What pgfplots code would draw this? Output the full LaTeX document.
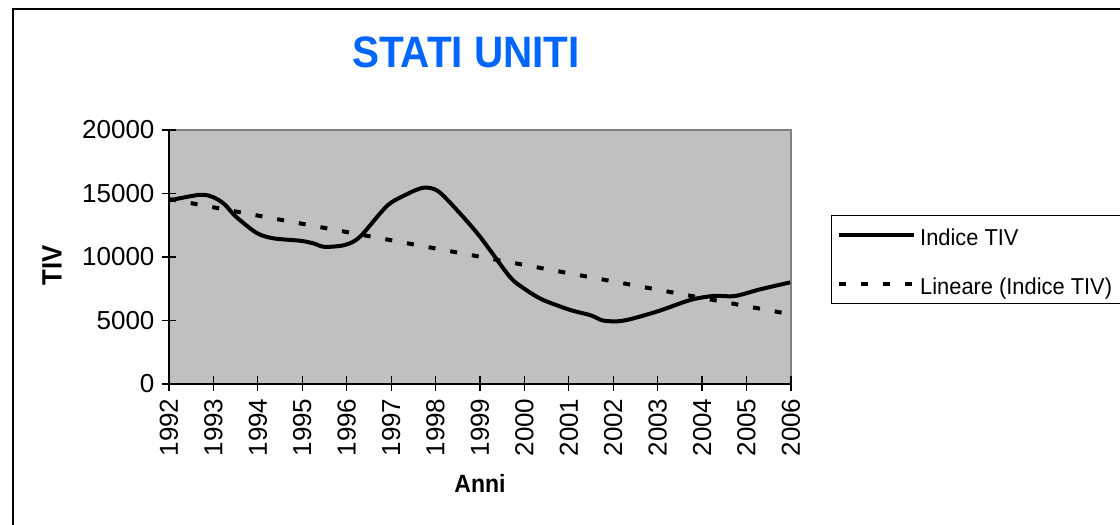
\documentclass[border=0pt]{standalone}
\usepackage{fontspec}
\setmainfont{Liberation Sans}
\newfontfamily\condsans{Liberation Sans}[FakeStretch=0.92]
\newfontfamily\legsans{Liberation Sans}[FakeStretch=0.95]
\usepackage{pgfplots}
\pgfplotsset{compat=1.18}
\definecolor{plotgray}{RGB}{192,192,192}
\definecolor{edgegray}{RGB}{128,128,128}
\definecolor{titleblue}{RGB}{0,102,255}

% Indice TIV
\pgfplotstableread{
anno   tiv
1992.00 14450
1992.70 14900
1993.00 14700
1993.25 14150
1993.50 13200
1993.97 11900
1994.35 11470
1994.95 11280
1995.25 11075
1995.50 10800
1995.96 10950
1996.30 11600
1996.90 14000
1997.30 14850
1997.72 15450
1998.05 15200
1998.48 13700
1999.00 11600
1999.67 8450
2000.00 7500
2000.28 6870
2000.50 6500
2001.03 5830
2001.50 5400
2001.78 4990
2002.23 4990
2002.98 5700
2003.73 6610
2004.25 6930
2004.74 6930
2005.30 7450
2005.98 8000
}\tivdata

\begin{document}
\begin{tikzpicture}
\useasboundingbox (0,0) rectangle (560pt,262.5pt);
\clip (0,0) rectangle (560pt,262.5pt);
\draw[line width=0.7pt] (6.5pt,258pt) rectangle (575pt,-5pt);
\begin{axis}[
    at={(84.5pt,70.5pt)}, anchor=south west,
    scale only axis, width=311pt, height=127pt,
    xmin=1992, xmax=2006, ymin=0, ymax=20000,
    xtick={1992,...,2006},
    ytick={0,5000,10000,15000,20000},
    scaled y ticks=false,
    axis lines*=left,
    axis line style={-, black, line width=0.8pt},
    axis background/.style={fill=plotgray, draw=edgegray, line width=0.6pt},
    tick align=center, major tick length=7.5pt,
    tick style={black, line width=0.6pt},
    xticklabel style={rotate=90, anchor=east, font=\fontsize{13}{13}\selectfont},
    yticklabel style={font=\fontsize{13}{13}\selectfont},
    /pgf/number format/1000 sep={},
    /pgf/number format/assume math mode=true,
    title={STATI UNITI},
    title style={at={(axis description cs:0.4775,1.197)}, anchor=base,
        font=\condsans\bfseries\fontsize{22}{22}\selectfont, text=titleblue},
    xlabel={Anni},
    xlabel style={at={(axis description cs:0.5,-0.428)}, anchor=base,
        font=\condsans\bfseries\fontsize{12.5}{12.5}\selectfont},
    ylabel={TIV},
    ylabel style={at={(axis description cs:-0.188,0.468)}, anchor=center,
        font=\condsans\bfseries\fontsize{14}{14}\selectfont},
    legend style={at={(axis description cs:1.064,0.665)}, anchor=north west,
        draw=black, fill=white, font=\legsans\fontsize{11.5}{11.5}\selectfont,
        inner xsep=3pt, inner ysep=2pt, row sep=9pt,
        nodes={inner xsep=2pt, inner ysep=0pt, text height=13pt, text depth=2.5pt}},
    legend cell align=left,
    legend image code/.code={\draw[#1] (0pt,0pt) -- (37.5pt,0pt);},
]
\addplot[black, line width=2pt, smooth] table[x=anno, y=tiv] {\tivdata};
\addlegendentry{Indice TIV}
\addplot[black, line width=2pt, dash pattern=on 3.5pt off 7.5pt] coordinates {
  (1992,14560) (2006,5480)
};
\addlegendentry{Lineare (Indice TIV)}
\end{axis}
\end{tikzpicture}
\end{document}
